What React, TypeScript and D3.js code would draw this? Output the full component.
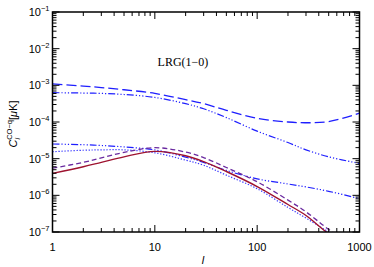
import React from "react";
import * as d3 from "d3";

const ells = [1, 2, 3, 5, 10, 20, 30, 50, 100, 200, 300, 500, 1000];
// log10 of C_l values
const blueDashed = [-2.96, -3.02, -3.06, -3.12, -3.22, -3.39, -3.5, -3.68, -3.9, -4.0, -4.02, -3.99, -3.76];
const blueDashDotUpper = [-3.2, -3.21, -3.22, -3.25, -3.33, -3.5, -3.64, -3.88, -4.25, -4.56, -4.76, -4.95, -5.13];
const blueDashDotLower = [-4.6, -4.62, -4.64, -4.68, -4.76, -4.96, -5.1, -5.32, -5.55, -5.69, -5.77, -5.89, -6.09];
const blueDotted = [-4.81, -4.77, -4.76, -4.76, -4.84, -5.04, -5.18, -5.45, -5.82, -6.33, -6.62, -7.0, -7.5];
const redSolid = [-5.4, -5.22, -5.1, -4.95, -4.8, -4.92, -5.08, -5.35, -5.76, -6.25, -6.55, -7.05, -7.6];
const purpleDashed = [-5.26, -5.1, -4.98, -4.83, -4.7, -4.82, -4.97, -5.24, -5.63, -6.13, -6.45, -6.93, -7.5];

const xTicks = [1, 10, 100, 1000];
const yExponents = [-1, -2, -3, -4, -5, -6, -7];

const W = 374, H = 267;
const L = 52.5, R = 359.5, T = 12, B = 232;

export default function App() {
  const x = d3.scaleLog().domain([1, 1000]).range([L, R]);
  const y = d3.scaleLog().domain([1e-7, 1e-1]).range([B, T]);
  const line = (vals: number[]) =>
    d3
      .line<number>()
      .x((_, i) => x(ells[i]))
      .y((v) => y(Math.pow(10, v)))
      .curve(d3.curveCatmullRom.alpha(0.5))(vals) || "";

  const series = [
    { v: blueDashed, c: "#1f1fff", d: "10 4", w: 1.3 },
    { v: blueDashDotUpper, c: "#1f1fff", d: "7 2 1.2 2 1.2 2 1.2 2", w: 1.2 },
    { v: blueDashDotLower, c: "#1f1fff", d: "7 2 1.2 2 1.2 2 1.2 2", w: 1.2 },
    { v: blueDotted, c: "#3a3aff", d: "1.3 1.7", w: 1.2 },
    { v: redSolid, c: "#9e1330", d: "none", w: 1.4 },
    { v: purpleDashed, c: "#6a2aa0", d: "5 3", w: 1.3 },
  ];

  const xMinor: { v: number; major: boolean }[] = [];
  for (let dec = 1; dec < 1000; dec *= 10) {
    for (let k = 1; k < 10; k++) xMinor.push({ v: dec * k, major: k === 1 });
  }
  xMinor.push({ v: 1000, major: true });
  const yMinor: { v: number; major: boolean }[] = [];
  for (let e = -7; e < -1; e++) {
    for (let k = 1; k < 10; k++) yMinor.push({ v: k * Math.pow(10, e), major: k === 1 });
  }
  yMinor.push({ v: 0.1, major: true });

  const font = "'Liberation Sans', Arial, sans-serif";

  return (
    <svg width={W} height={H} style={{ position: "absolute", left: 0, top: 0 }}>
      <rect width={W} height={H} fill="white" />
      <defs>
        <clipPath id="plot">
          <rect x={L} y={T} width={R - L} height={B - T} />
        </clipPath>
      </defs>
      <g clipPath="url(#plot)">
        {series.map((s, i) => (
          <path key={i} d={line(s.v)} fill="none" stroke={s.c} strokeWidth={s.w} strokeDasharray={s.d} />
        ))}
      </g>
      {/* ticks */}
      <g stroke="black" strokeWidth={1}>
        {xMinor.map((t, i) => {
          const len = t.major ? 7 : 4;
          const px = x(t.v);
          return (
            <g key={"x" + i}>
              <line x1={px} x2={px} y1={B} y2={B - len} />
              <line x1={px} x2={px} y1={T} y2={T + len} />
            </g>
          );
        })}
        {yMinor.map((t, i) => {
          const len = t.major ? 7 : 4;
          const py = y(t.v);
          return (
            <g key={"y" + i}>
              <line x1={L} x2={L + len} y1={py} y2={py} />
              <line x1={R} x2={R - len} y1={py} y2={py} />
            </g>
          );
        })}
      </g>
      <rect x={L} y={T} width={R - L} height={B - T} fill="none" stroke="black" strokeWidth={1.5} />
      {/* x tick labels */}
      {xTicks.map((t) => (
        <text key={t} x={x(t)} y={251} textAnchor="middle" fontFamily={font} fontSize={11}>
          {t}
        </text>
      ))}
      {/* y tick labels */}
      {yExponents.map((e) => (
        <text key={e} x={L - 3} y={y(Math.pow(10, e)) + 4} textAnchor="end" fontFamily={font} fontSize={11}>
          10
          <tspan fontSize={7.5} dy={-5}>
            {"\u2212" + Math.abs(e)}
          </tspan>
        </text>
      ))}
      <text x={203} y={264} textAnchor="middle" fontFamily={font} fontSize={11} fontStyle="italic">
        l
      </text>
      <text
        transform="translate(17,124) rotate(-90)"
        textAnchor="middle"
        fontFamily={font}
        fontSize={11}
      >
        <tspan fontStyle="italic">C</tspan>
        <tspan fontStyle="italic" fontSize={7.5} dy={3}>l</tspan>
        <tspan fontSize={7.5} dy={-8} dx={-2}>CO−q</tspan>
        <tspan dy={5}>[</tspan>
        <tspan fontStyle="italic">μ</tspan>
        <tspan>K]</tspan>
      </text>
      <text x={183} y={66} textAnchor="middle" fontFamily="'Liberation Serif', 'DejaVu Serif', serif" fontSize={12}>
        LRG(1−0)
      </text>
    </svg>
  );
}
